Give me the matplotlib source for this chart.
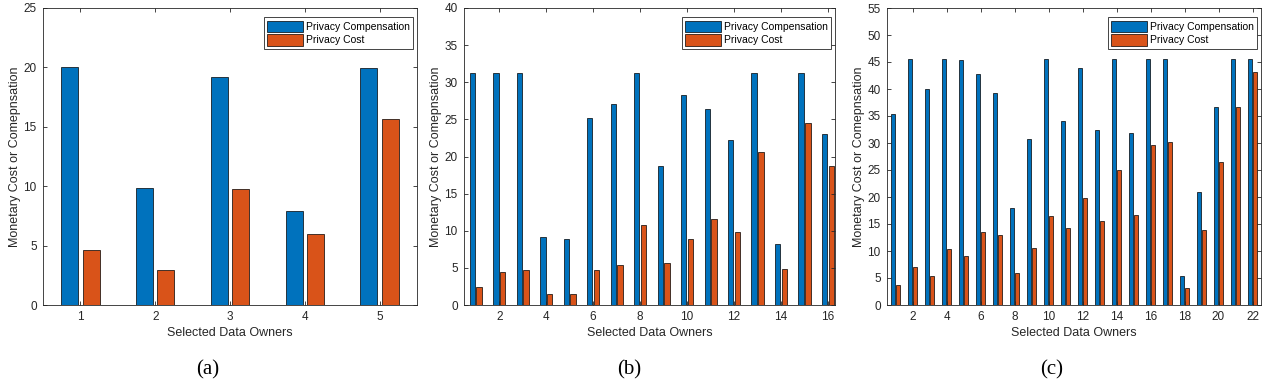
import matplotlib
matplotlib.use('Agg')
import matplotlib.pyplot as plt
import numpy as np

# (a) 5 selected owners
comp_a = [20.0, 9.85, 19.2, 7.9, 19.95]
cost_a = [4.67, 2.92, 9.77, 5.97, 15.67]

# (b) 16 selected owners
comp_b = [31.24, 31.24, 31.24, 9.2, 8.9, 25.17, 27.06, 31.24,
          18.74, 28.27, 26.38, 22.2, 31.24, 8.18, 31.24, 23.0]
cost_b = [2.43, 4.4, 4.76, 1.44, 1.44, 4.67, 5.35, 10.74,
          5.62, 8.85, 11.55, 9.8, 20.63, 4.81, 24.49, 18.74]

# (c) 22 selected owners
comp_c = [35.4, 45.5, 40.06, 45.5, 45.4, 42.8, 39.2, 17.96, 30.77, 45.5, 34.06,
          43.96, 32.45, 45.5, 31.76, 45.5, 45.5, 5.39, 20.93, 36.7, 45.5, 45.5]
cost_c = [3.65, 7.0, 5.39, 10.34, 9.1, 13.5, 12.94, 5.88, 10.59, 16.53, 14.24,
          19.81, 15.48, 25.0, 16.6, 29.6, 30.2, 3.16, 13.87, 26.5, 36.7, 43.1]

xticks_a = [1, 2, 3, 4, 5]
xticks_b = list(range(2, 17, 2))
xticks_c = list(range(2, 23, 2))
ymax = [25, 40, 55]
captions = ['(a)', '(b)', '(c)']

BLUE = '#0072BD'
ORANGE = '#D95319'
DARK = '#262626'

plt.rcParams['font.family'] = ['Liberation Sans', 'DejaVu Sans']

fig = plt.figure(figsize=(12.69, 3.87), dpi=100)
W, H = 1269.0, 387.0
boxes = [(43, 417), (464, 835), (887, 1261)]
top, bot = 8, 305
cap_x = [208, 629, 1052]
xlims = [(0.5, 5.5), (0.5, 16.3), (0.5, 22.5)]

data = [(comp_a, cost_a, xticks_a), (comp_b, cost_b, xticks_b), (comp_c, cost_c, xticks_c)]

for i, (comp, cost, xt) in enumerate(data):
    l, r = boxes[i]
    ax = fig.add_axes([l / W, 1 - bot / H, (r - l) / W, (bot - top) / H])
    x = np.arange(1, len(comp) + 1)
    w = 0.229
    ax.bar(x - 0.143, comp, w, color=BLUE, edgecolor='k', linewidth=0.5,
           label='Privacy Compensation')
    ax.bar(x + 0.143, cost, w, color=ORANGE, edgecolor='k', linewidth=0.5,
           label='Privacy Cost')
    ax.set_xlim(*xlims[i])
    ax.set_ylim(0, ymax[i])
    ax.set_xticks(xt)
    ax.set_yticks(np.arange(0, ymax[i] + 1, 5))
    ax.tick_params(direction='in', top=True, right=True, length=3, width=0.6,
                   labelsize=8.5, colors=DARK, pad=4.5)
    for s in ax.spines.values():
        s.set_color(DARK)
        s.set_linewidth(0.6)
    ax.set_xlabel('Selected Data Owners', fontsize=9, color=DARK, labelpad=3)
    ax.set_ylabel('Monetary Cost or Comepnsation', fontsize=9, color=DARK, labelpad=2)
    leg = ax.legend(loc='upper right', bbox_to_anchor=(0.99, 0.97), borderaxespad=0,
                    fontsize=7.5, handlelength=3.4, handleheight=1.35, handletextpad=0.3,
                    borderpad=0.35, labelspacing=0.15, fancybox=False, framealpha=1)
    leg.get_frame().set_edgecolor(DARK)
    leg.get_frame().set_linewidth(0.6)
    fig.text(cap_x[i] / W, 1 - 370 / H, captions[i], ha='center', va='center',
             fontsize=15, family=['Liberation Serif', 'DejaVu Serif'])

fig.savefig('out.png', dpi=100)
